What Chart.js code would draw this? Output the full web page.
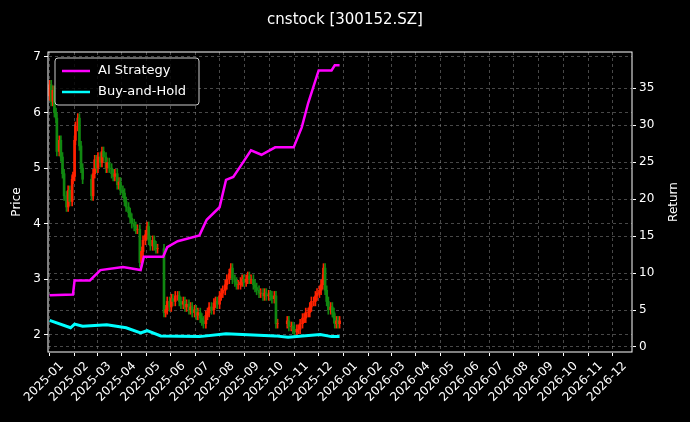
<!DOCTYPE html>
<html>
<head>
<meta charset="utf-8">
<script src="https://cdn.jsdelivr.net/npm/chart.js@4"></script>
<style>
  html, body { margin: 0; padding: 0; background: #000; }
  #wrap { width: 690px; height: 422px; }
</style>
</head>
<body>
<div id="wrap"><canvas id="myChart" width="690" height="422"></canvas></div>
<script>
// days counted from 2025-01-01
var candleDays = [-15,-13,-11,-9,-7,-6,-3,-1,1,3,6,8,10,13,14,16,17,20,22,24,26,
  37,39,41,43,45,48,50,52,55,56,59,62,64,66,69,71,73,76,78,80,83,85,87,90,92,94,97,99,101,104,106,108,110,113,115,117,119,
  127,129,131,134,136,138,141,144,146,148,151,153,155,158,160,162,165,167,169,172,174,176,179,181,183,186,189,191,193,196,198,200,
  203,205,208,210,212,215,217,219,222,224,226,229,231,233,235,238,240,242,245,247,250,252,254,257,259,261,264,266,268,
  280,282,285,287,289,292,294,296,299,301,303,306,308,310,313,315,317,320,322,324,325,327,329,331,334,336,338,339,341,343,345];
var closes = [6.5,6.2,6.4,6.0,5.9,5.3,5.5,5.2,4.9,4.5,4.3,4.6,4.4,4.8,4.85,5.5,5.75,5.9,5.4,5.0,4.8,
  4.5,4.9,5.15,5.0,5.2,5.1,5.3,5.2,5.0,5.1,5.0,4.9,4.85,4.9,4.7,4.75,4.6,4.55,4.4,4.3,4.2,4.1,4.0,3.95,3.9,3.9,3.3,3.5,3.7,3.8,3.95,3.7,3.6,3.7,3.6,3.55,3.55,
  2.4,2.45,2.6,2.5,2.65,2.6,2.7,2.7,2.6,2.55,2.6,2.5,2.55,2.45,2.5,2.4,2.45,2.35,2.4,2.3,2.25,2.2,2.35,2.4,2.5,2.45,2.57,2.6,2.55,2.7,2.75,2.8,
  2.9,3.0,3.1,3.2,3.0,2.95,2.9,2.9,2.95,3.0,2.95,3.0,3.05,3.0,3.0,2.9,2.85,2.8,2.75,2.75,2.7,2.75,2.7,2.72,2.7,2.65,2.7,2.2,2.2,
  2.25,2.15,2.15,2.1,2.05,2.1,2.1,2.2,2.3,2.3,2.4,2.4,2.5,2.6,2.6,2.7,2.75,2.8,2.9,3.0,3.2,2.8,2.6,2.45,2.5,2.4,2.3,2.2,2.25,2.2,2.25];

var aiDays = [-15,14,16,35,48,76,98,102,126,131,144,171,180,196,204,213,221,235,248,265,288,298,306,319,335,339,345];
var aiReturn = [7.0,7.1,9.0,9.0,10.4,10.8,10.4,12.2,12.2,13.5,14.3,15.1,17.2,18.9,22.6,23.0,24.3,26.6,26.0,27.0,27.0,29.7,33.0,37.4,37.4,38.1,38.1];

var bhDays = [-15,11,16,26,56,80,98,106,123,171,204,265,281,321,335,345];
var bhReturn = [3.6,2.6,3.1,2.8,3.0,2.6,1.9,2.2,1.5,1.4,1.8,1.5,1.3,1.7,1.4,1.4];

var monthTicks = [];
for (let i = 0; i < 24; i++) {
    monthTicks.push({ y: 2025 + Math.floor(i / 12), m: i % 12 });
}
function dayOf(y, m) {
    return Math.round((Date.UTC(y, m, 1) - Date.UTC(2025, 0, 1)) / 86400000);
}

var bodies = [], wicks = [], colors = [];
for (let i = 0; i < closes.length; i++) {
    let o = i == 0 ? 6.3 : closes[i - 1];
    let c = closes[i];
    bodies.push({ x: candleDays[i], y: [o, c] });
    wicks.push({ x: candleDays[i], y: [Math.min(o, c) - 0.08, Math.max(o, c) + 0.08] });
    colors.push(c >= o ? '#ff2200' : '#118811');
}

function vText(c, txt, x, y) {
    c.save();
    c.font = '12px "DejaVu Sans"';
    c.fillStyle = '#fff';
    c.textAlign = 'center';
    c.textBaseline = 'middle';
    c.translate(x, y);
    c.rotate(-Math.PI / 2);
    c.fillText(txt, 0, 0);
    c.restore();
}

var bgPlugin = {
    id: 'bg',
    beforeDraw(chart) {
        let c = chart.ctx;
        c.save();
        c.fillStyle = '#000';
        c.fillRect(0, 0, chart.width, chart.height);
        c.restore();
    },
    afterDraw(chart) {
        let c = chart.ctx, a = chart.chartArea;
        c.save();
        c.strokeStyle = '#fff';
        c.lineWidth = 1;
        c.strokeRect(a.left, a.top, a.right - a.left, a.bottom - a.top);
        c.fillStyle = '#fff';
        c.font = '15px "DejaVu Sans"';
        c.textAlign = 'center';
        c.fillText('cnstock [300152.SZ]', 345, 24);
        vText(c, 'Price', 17, 202);
        vText(c, 'Return', 674, 202);
        // legend box
        c.fillStyle = 'rgba(0,0,0,0.8)';
        c.strokeStyle = '#ccc';
        c.beginPath();
        c.roundRect(55, 58, 144, 47, 3);
        c.fill(); c.stroke();
        let items = [['AI Strategy', '#ff00ff'], ['Buy-and-Hold', '#00ffff']];
        c.font = '13px "DejaVu Sans"';
        c.textAlign = 'left';
        c.textBaseline = 'middle';
        items.forEach(function (it, k) {
            let y = 71 + k * 21;
            c.strokeStyle = it[1];
            c.lineWidth = 2.5;
            c.beginPath(); c.moveTo(62, y); c.lineTo(90, y); c.stroke();
            c.fillStyle = '#fff';
            c.fillText(it[0], 98, y);
        });
        c.restore();
    }
};

var gridColor = 'rgba(160,160,160,0.45)';
var ctx = document.getElementById('myChart');
var myChart = new Chart(ctx, {
    type: 'bar',
    data: {
        datasets: [{
            label: 'wick', data: wicks, backgroundColor: colors,
            barThickness: 1, grouped: false, yAxisID: 'y', order: 3
        }, {
            label: 'body', data: bodies, backgroundColor: colors,
            barThickness: 2, grouped: false, yAxisID: 'y', order: 2
        }, {
            type: 'line', label: 'AI Strategy',
            data: aiDays.map((d, i) => ({ x: d, y: aiReturn[i] })),
            borderColor: '#ff00ff', borderWidth: 2.5, pointRadius: 0, yAxisID: 'y2', order: 1
        }, {
            type: 'line', label: 'Buy-and-Hold',
            data: bhDays.map((d, i) => ({ x: d, y: bhReturn[i] })),
            borderColor: '#00ffff', borderWidth: 3, pointRadius: 0, yAxisID: 'y2', order: 1
        }]
    },
    options: {
        responsive: false,
        animation: false,
        layout: { padding: { top: 52 } },
        plugins: { legend: { display: false }, tooltip: { enabled: false } },
        scales: {
            x: {
                type: 'linear', min: -17, max: 708, offset: false,
                afterBuildTicks(s) { s.ticks = monthTicks.map(t => ({ value: dayOf(t.y, t.m) })); },
                afterFit(s) { s.height = 70; },
                ticks: {
                    color: '#fff', font: { size: 12, family: 'DejaVu Sans' },
                    minRotation: 45, maxRotation: 45, autoSkip: false,
                    callback: function (v, i) {
                        let t = monthTicks[i];
                        return t.y + '-' + String(t.m + 1).padStart(2, '0');
                    }
                },
                grid: { color: gridColor, tickColor: '#fff', tickLength: 4 },
                border: { dash: [3, 3] }
            },
            y: {
                position: 'left', min: 1.69, max: 7.09,
                afterBuildTicks(s) { s.ticks = [2, 3, 4, 5, 6, 7].map(v => ({ value: v })); },
                afterFit(s) { s.width = 48; },
                ticks: { color: '#fff', font: { size: 12, family: 'DejaVu Sans' } },
                grid: { color: gridColor, tickColor: '#fff', tickLength: 4 },
                border: { dash: [3, 3] }
            },
            y2: {
                position: 'right', min: -0.68, max: 39.9,
                afterBuildTicks(s) { s.ticks = [0, 5, 10, 15, 20, 25, 30, 35].map(v => ({ value: v })); },
                afterFit(s) { s.width = 58; },
                ticks: { color: '#fff', font: { size: 12, family: 'DejaVu Sans' } },
                grid: { color: gridColor, tickColor: '#fff', tickLength: 4 },
                border: { dash: [3, 3] }
            }
        }
    },
    plugins: [bgPlugin]
});
</script>
</body>
</html>
